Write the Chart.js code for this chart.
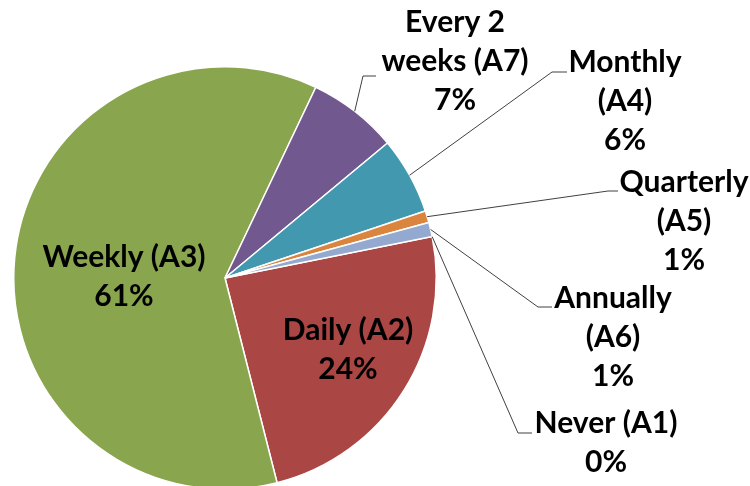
<!DOCTYPE html>
<html>
<head>
<meta charset="utf-8">
<script src="https://cdn.jsdelivr.net/npm/chart.js@4.4.0/dist/chart.umd.min.js"></script>
<style>
  html, body { margin: 0; padding: 0; background: #fff; overflow: hidden; }
  #wrap { width: 750px; height: 492px; }
</style>
</head>
<body>
<div id="wrap"><canvas id="pieChart" width="750" height="492"></canvas></div>
<script>
// Data, in drawing order (clockwise from the Daily slice)
const categories = ['Daily (A2)', 'Weekly (A3)', 'Every 2 weeks (A7)', 'Monthly (A4)', 'Quarterly (A5)', 'Annually (A6)', 'Never (A1)'];
const labelLines = [['Daily (A2)'], ['Weekly (A3)'], ['Every 2', 'weeks (A7)'], ['Monthly', '(A4)'], ['Quarterly', '(A5)'], ['Annually', '(A6)'], ['Never (A1)']];
const shares = [24.2, 61.1, 6.9, 5.9, 0.9, 1.1, 0];
const sliceColors = ['#AA4643', '#89A54E', '#71588F', '#4198AF', '#DB843D', '#93A9CF', '#4572A7'];

// Label layout: text centre x, first-line baseline y, optional leader bend/end
const labelPlacement = [
  { x: 348, y: 340 },
  { x: 124, y: 267 },
  { x: 455, y: 32, bend: [363, 76], end: [376, 76] },
  { x: 625, y: 72, bend: [552, 72], end: [567, 72] },
  { x: 684, y: 192, bend: [608, 191], end: [618, 191] },
  { x: 613, y: 308, bend: [538, 307], end: [552, 307] },
  { x: 606, y: 433, bend: [518, 433], end: [532, 433] }
];
const lineStep = 39;

const pieLabels = {
  id: 'pieLabels',
  afterDatasetsDraw(chart) {
    const ctx = chart.ctx;
    const meta = chart.getDatasetMeta(0);
    const total = shares.reduce((a, b) => a + b, 0);
    ctx.save();
    meta.data.forEach((arc, i) => {
      const p = labelPlacement[i];
      if (p.bend) {
        const mid = (arc.startAngle + arc.endAngle) / 2;
        const sx = arc.x + Math.cos(mid) * arc.outerRadius;
        const sy = arc.y + Math.sin(mid) * arc.outerRadius;
        ctx.strokeStyle = '#404040';
        ctx.lineWidth = 1;
        ctx.beginPath();
        ctx.moveTo(sx, sy);
        ctx.lineTo(p.bend[0], p.bend[1]);
        ctx.lineTo(p.end[0], p.end[1]);
        ctx.stroke();
      }
      const lines = labelLines[i].concat([Math.round(shares[i] / total * 100) + '%']);
      ctx.fillStyle = '#000';
      ctx.font = 'bold 30px Lato';
      ctx.textAlign = 'center';
      ctx.textBaseline = 'alphabetic';
      lines.forEach((t, k) => ctx.fillText(t, p.x, p.y + k * lineStep));
    });
    ctx.restore();
  }
};

new Chart(document.getElementById('pieChart'), {
  type: 'pie',
  data: {
    labels: categories,
    datasets: [{
      data: shares,
      backgroundColor: sliceColors,
      borderColor: '#fff',
      borderWidth: 1.5
    }]
  },
  options: {
    responsive: false,
    animation: false,
    rotation: 78.7,
    layout: { padding: { left: 13, top: 66, right: 313, bottom: 2 } },
    plugins: {
      legend: { display: false },
      tooltip: { enabled: false }
    }
  },
  plugins: [pieLabels]
});
</script>
</body>
</html>
